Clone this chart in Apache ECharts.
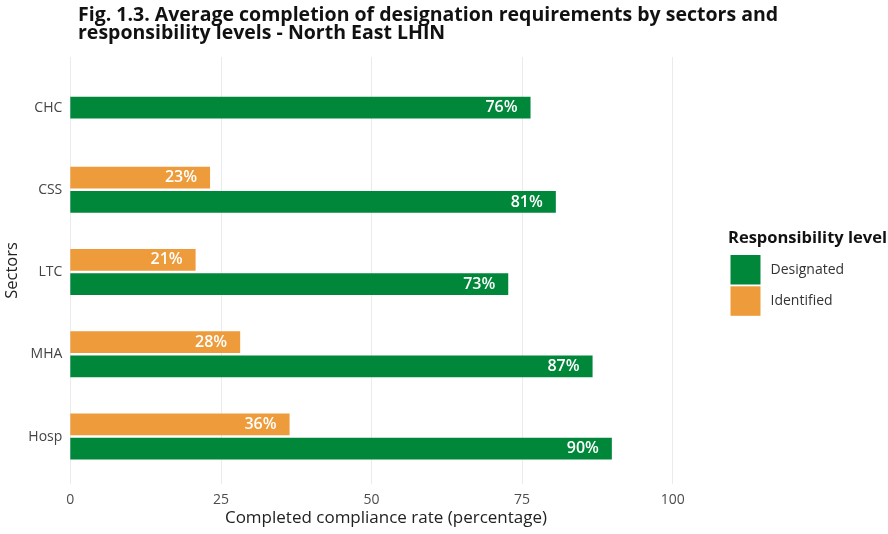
<!DOCTYPE html>
<html>
<head>
<meta charset="utf-8">
<script src="https://cdn.jsdelivr.net/npm/echarts@6/dist/echarts.min.js"></script>
<style>html,body{margin:0;padding:0;background:#fff}#c{width:888px;height:534px}</style>
</head>
<body>
<div id="c"></div>
<script>
const titleLines = ["Fig. 1.3. Average completion of designation requirements by sectors and", "responsibility levels - North East LHIN"];
const sectors = ["CHC", "CSS", "LTC", "MHA", "Hosp"];
const designated = [76.4, 80.6, 72.7, 86.7, 89.9];
const identified = [null, 23.2, 20.8, 28.2, 36.4];
const xTicks = [0, 25, 50, 75, 100];
const seriesNames = ["Designated", "Identified"];
const legendTitle = "Responsibility level";
const xTitle = "Completed compliance rate (percentage)";
const yTitle = "Sectors";

const GREEN = "#00873a", ORANGE = "#ee9b3b";
const FONT = "Open Sans";
// sectors with only one responsibility level get a centred single bar
const designatedPaired = designated.map((v, i) => identified[i] == null ? null : v);
const designatedSingle = designated.map((v, i) => identified[i] == null ? v : null);

const label = {
  show: true, position: 'insideRight', offset: [-8, 0],
  color: '#fff', fontFamily: FONT, fontWeight: 600, fontSize: 16,
  formatter: p => Math.round(p.value) + '%'
};
const BW = 21.7;
const L = 70.3, R = 888 - 672.7;

const chart = echarts.init(document.getElementById('c'), null, {renderer: 'canvas'});
chart.setOption({
  animation: false,
  textStyle: {fontFamily: FONT},
  title: [
    {text: titleLines.join('\n'), left: 78, top: 6, padding: 0,
     textStyle: {fontFamily: FONT, fontWeight: 'bold', fontSize: 19.5, lineHeight: 18, color: '#111'}},
    {text: xTitle, left: 386, textAlign: 'center', top: 510, padding: 0,
     textStyle: {fontFamily: FONT, fontWeight: 'normal', fontSize: 17, color: '#222'}},
    {text: legendTitle, left: 728, top: 230, padding: 0,
     textStyle: {fontFamily: FONT, fontWeight: 'bold', fontSize: 16.5, color: '#111'}}
  ],
  legend: {
    data: seriesNames, orient: 'vertical', left: 730.5, top: 255, padding: 0,
    icon: 'rect', itemWidth: 30, itemHeight: 29.5, itemGap: 1.8,
    textStyle: {fontFamily: FONT, fontSize: 14, color: '#333', padding: [0, 0, 0, 5]}
  },
  grid: [
    {left: L, right: R, top: 57, bottom: 534 - 484, outerBoundsMode: 'none', containLabel: false},
    {left: L, right: R, top: 66.4, height: 411.3, outerBoundsMode: 'none', containLabel: false}
  ],
  xAxis: [
    {gridIndex: 0, type: 'value', min: xTicks[0], max: xTicks[xTicks.length - 1], interval: 25,
     axisLine: {show: false}, axisTick: {show: false},
     splitLine: {show: true, lineStyle: {color: '#ebebeb', width: 1}},
     axisLabel: {color: '#4d4d4d', fontSize: 14, fontFamily: FONT, margin: 9}},
    {gridIndex: 1, type: 'value', min: xTicks[0], max: xTicks[xTicks.length - 1], show: false}
  ],
  yAxis: [
    {gridIndex: 0, type: 'value', min: 0, max: 1, show: true,
     axisLine: {show: false}, axisTick: {show: false}, axisLabel: {show: false}, splitLine: {show: false},
     name: yTitle, nameLocation: 'middle', nameRotate: 90, nameGap: 50,
     nameTextStyle: {fontFamily: FONT, fontSize: 16.5, color: '#222'}},
    {gridIndex: 1, type: 'category', data: sectors, inverse: true,
     axisLine: {show: false}, axisTick: {show: false}, splitLine: {show: false},
     axisLabel: {color: '#444', fontSize: 14, fontFamily: FONT, margin: 8}},
    {gridIndex: 1, type: 'category', data: sectors, inverse: true, show: false}
  ],
  series: [
    {name: seriesNames[1], type: 'bar', xAxisIndex: 1, yAxisIndex: 1, data: identified,
     barWidth: BW, barGap: '12%', itemStyle: {color: ORANGE}, label: label},
    {name: seriesNames[0], type: 'bar', xAxisIndex: 1, yAxisIndex: 1, data: designatedPaired,
     barWidth: BW, barGap: '12%', itemStyle: {color: GREEN}, label: label},
    {name: seriesNames[0], type: 'bar', xAxisIndex: 1, yAxisIndex: 2, data: designatedSingle,
     barWidth: BW, itemStyle: {color: GREEN}, label: label}
  ]
});
</script>
</body>
</html>
